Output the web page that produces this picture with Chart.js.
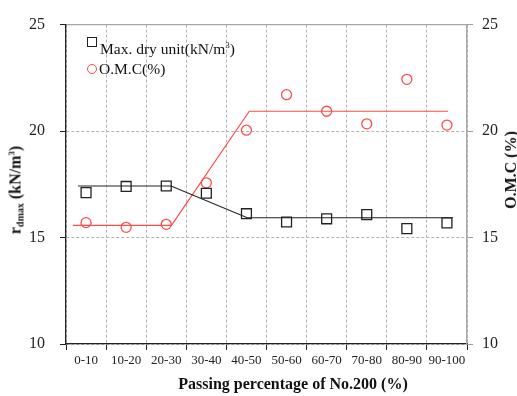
<!DOCTYPE html>
<html>
<head>
<meta charset="utf-8">
<script src="https://cdn.jsdelivr.net/npm/chart.js@4/dist/chart.umd.min.js"></script>
<style>
    html, body { margin: 0; padding: 0; background: #fff; }
    .wrap { position: relative; width: 517px; height: 396px; font-family: "Liberation Serif", serif; color: #111; }
    canvas { position: absolute; left: 0; top: 0; }
    .ytitle { position: absolute; white-space: nowrap; font-weight: bold; font-size: 16px; transform: translate(-50%, -50%) rotate(-90deg); }
    .ytitle sub { font-size: 10px; vertical-align: -3px; }
    .ytitle sup { font-size: 9px; vertical-align: 6px; }
    .xtitle { position: absolute; white-space: nowrap; font-weight: bold; font-size: 16px; transform: translate(-50%, -50%); }
    .legend-row { position: absolute; white-space: nowrap; font-size: 15.5px; }
    .legend-row sup { font-size: 9px; vertical-align: 6px; }
    .mark { position: absolute; box-sizing: border-box; width: 10px; height: 10px; }
    .mark.square { border: 1.3px solid #222; }
    .mark.circle { border: 1.3px solid #ff4b4b; border-radius: 50%; }
</style>
</head>
<body>
<div class="wrap">
    <canvas id="chart" width="517" height="396"></canvas>

    <div class="ytitle" style="left:16px; top:190px;">r<sub>dmax</sub> (kN/m<sup>3</sup>)</div>
    <div class="ytitle" style="left:511px; top:170px;">O.M.C (%)</div>
    <div class="xtitle" style="left:293px; top:384px;">Passing percentage of No.200 (%)</div>

    <div class="mark square" style="left:87px; top:37px;"></div>
    <div class="legend-row" style="left:100px; top:40px;">Max. dry unit(kN/m<sup>3</sup>)</div>
    <div class="mark circle" style="left:87px; top:64px;"></div>
    <div class="legend-row" style="left:99px; top:60px;">O.M.C(%)</div>
</div>

<script>

/* =========================
   DATA
========================= */

const categories = ["0-10", "10-20", "20-30", "30-40", "40-50", "50-60", "60-70", "70-80", "80-90", "90-100"];

const dryUnit = [17.11, 17.40, 17.42, 17.08, 16.12, 15.73, 15.88, 16.08, 15.42, 15.69];
const omc = [15.70, 15.48, 15.62, 17.57, 20.04, 21.71, 20.93, 20.34, 22.43, 20.28];

// trend lines, x in category units (0 = left edge, 10 = right edge)
const dryTrendX = [0.30, 2.62, 4.52, 9.65];
const dryTrendY = [17.42, 17.42, 15.93, 15.93];
const omcTrendX = [0.17, 2.63, 4.57, 9.53];
const omcTrendY = [15.57, 15.57, 20.93, 20.93];

const yTicks = [10, 15, 20, 25];

/* =========================
   CHART
========================= */

const FONT = "Liberation Serif";
const RED = "#ff4b4b";
const GRID = "#b4b4b4";

function toPoints(xs, ys){
    return xs.map((x, i) => ({ x: x, y: ys[i] }));
}

function markerPoints(values){
    return categories.map((c, i) => ({ x: i + 0.5, y: values[i] }));
}

function setTicks(scale){
    scale.ticks = yTicks.map(v => ({ value: v }));
}

new Chart(document.getElementById("chart"), {

    type: "scatter",

    data: {

        labels: categories,

        datasets: [
            {
                label: "Max. dry unit(kN/m3)",
                data: markerPoints(dryUnit),
                xAxisID: "xd",
                yAxisID: "y",
                showLine: false,
                pointStyle: "rect",
                pointRadius: 7,
                pointBorderWidth: 1.3,
                pointBorderColor: "#222",
                pointBackgroundColor: "rgba(0,0,0,0)"
            },
            {
                label: "O.M.C(%)",
                data: markerPoints(omc),
                xAxisID: "xd",
                yAxisID: "y2",
                showLine: false,
                pointStyle: "circle",
                pointRadius: 5,
                pointBorderWidth: 1.3,
                pointBorderColor: RED,
                pointBackgroundColor: "rgba(0,0,0,0)"
            },
            {
                label: "dry trend",
                data: toPoints(dryTrendX, dryTrendY),
                xAxisID: "xd",
                yAxisID: "y",
                showLine: true,
                pointRadius: 0,
                borderColor: "#222",
                borderWidth: 1.2
            },
            {
                label: "omc trend",
                data: toPoints(omcTrendX, omcTrendY),
                xAxisID: "xd",
                yAxisID: "y2",
                showLine: true,
                pointRadius: 0,
                borderColor: RED,
                borderWidth: 1.2
            }
        ]

    },

    options: {

        responsive: false,
        animation: false,
        devicePixelRatio: 1,

        layout: {
            padding: { top: 19, left: 0, right: 0, bottom: 0 }
        },

        plugins: {
            legend: { display: false },
            tooltip: { enabled: false }
        },

        scales: {

            x: {
                type: "category",
                position: "bottom",
                offset: true,
                grid: {
                    offset: true,
                    color: GRID,
                    tickColor: "#222",
                    tickLength: 6
                },
                border: { color: "#222", width: 1.3, dash: [3, 2] },
                ticks: {
                    color: "#222",
                    font: { family: FONT, size: 13 },
                    padding: 3,
                    maxRotation: 0,
                    autoSkip: false
                },
                afterFit(scale){ scale.height = 52; }
            },

            xd: {
                type: "linear",
                display: false,
                min: 0,
                max: 10
            },

            xt: {
                type: "linear",
                position: "top",
                grid: { display: false, drawTicks: false },
                ticks: { display: false },
                border: { color: "#a8a8a8", width: 1.3 }
            },

            y: {
                type: "linear",
                position: "left",
                min: 10,
                max: 25,
                afterBuildTicks: setTicks,
                grid: {
                    color: GRID,
                    tickColor: "#222",
                    tickLength: 6
                },
                border: { color: "#222", width: 1.3, dash: [3, 2] },
                ticks: {
                    color: "#222",
                    font: { family: FONT, size: 16 },
                    padding: 15
                },
                afterFit(scale){ scale.width = 66; }
            },

            y2: {
                type: "linear",
                position: "right",
                min: 10,
                max: 25,
                afterBuildTicks: setTicks,
                grid: {
                    drawOnChartArea: false,
                    tickColor: "#a0a0a0",
                    tickLength: 6
                },
                border: { color: "#a8a8a8", width: 1.5 },
                ticks: {
                    color: "#222",
                    font: { family: FONT, size: 16 },
                    padding: 9
                },
                afterFit(scale){ scale.width = 50; }
            }

        }

    }

});

</script>
</body>
</html>
